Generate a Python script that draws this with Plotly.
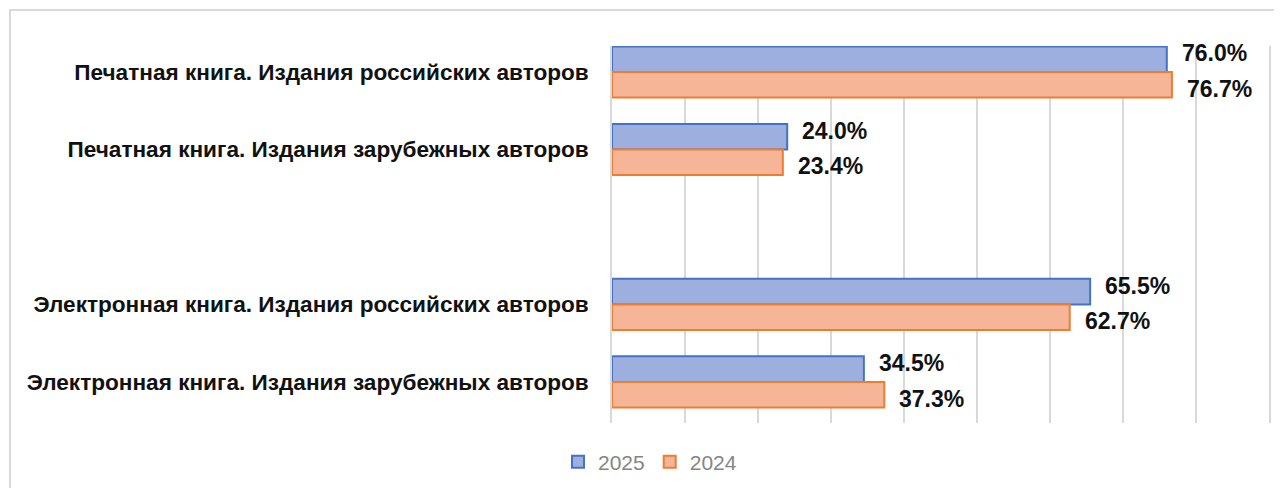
import plotly.graph_objects as go

categories = [
    "Печатная книга. Издания российских авторов",
    "Печатная книга. Издания зарубежных авторов",
    " ",
    "Электронная книга. Издания российских авторов",
    "Электронная книга. Издания зарубежных авторов",
]
series_names = ["2025", "2024"]
values_2025 = [76.0, 24.0, None, 65.5, 34.5]
values_2024 = [76.7, 23.4, None, 62.7, 37.3]
label_2025 = ["76.0%", "24.0%", "", "65.5%", "34.5%"]
label_2024 = ["76.7%", "23.4%", "", "62.7%", "37.3%"]

fills = ["#9dafdf", "#f6b596"]
edges = ["#4472c4", "#ed7d31"]

BARGAP = 0.34
half = (1 - BARGAP) / 4  # center offset of each bar within a group

# page body has an 8px margin: shrink figure so the plot lands where the reference has it
OFF = 8
W, H = 1282 - OFF, 488 - OFF
PL, PR, PT, PB = 612 - OFF, 1269 - OFF, 46 - OFF, 423 - OFF
PW, PH = PR - PL, PB - PT

fig = go.Figure()
for name, vals, fc, ec in zip(series_names, [values_2025, values_2024], fills, edges):
    fig.add_trace(go.Bar(
        name=name, y=categories, x=vals, orientation="h",
        marker=dict(color=fc, line=dict(color=ec, width=2)),
        hoverinfo="skip",
    ))

annotations = []
for k, (vals, labs, ysh) in enumerate([(values_2025, label_2025, 6), (values_2024, label_2024, -4)]):
    off = -half if k == 0 else half
    for i, (v, t) in enumerate(zip(vals, labs)):
        if v is None:
            continue
        annotations.append(dict(
            x=v, y=i + off, xref="x", yref="y", text="<b>%s</b>" % t, showarrow=False,
            xanchor="left", yanchor="middle", xshift=13, yshift=ysh,
            font=dict(family="Liberation Sans, Arial, sans-serif", size=23, color="#111111"),
        ))

fig.update_layout(
    width=W, height=H,
    margin=dict(l=PL, r=W - PR, t=PT, b=H - PB, autoexpand=False),
    paper_bgcolor="white", plot_bgcolor="white",
    barmode="group", bargap=BARGAP, bargroupgap=0,
    showlegend=True,
    legend=dict(
        orientation="h", xref="container", yref="container",
        x=(650 - OFF) / W, xanchor="center", y=1 - (462 - OFF) / H, yanchor="middle",
        font=dict(family="Liberation Sans, Arial, sans-serif", size=21, color="#858585"),
        itemwidth=30, traceorder="normal",
    ),
    annotations=annotations,
    xaxis=dict(
        range=[0, 90], dtick=10, showgrid=True, gridcolor="#d9d9d9", gridwidth=1.5,
        showticklabels=False, zeroline=False, showline=False, ticks="",
    ),
    yaxis=dict(
        type="category", categoryorder="array", categoryarray=categories,
        range=[4.53, -0.335], showgrid=False, zeroline=False,
        showline=True, linecolor="#d9d9d9", linewidth=1.5, mirror=True,
        ticks="", ticklen=0, ticklabelstandoff=17,
        tickfont=dict(family="Liberation Sans, Arial, sans-serif", size=22.6, color="#111111"),
    ),
    shapes=[dict(
        type="rect", xref="paper", yref="paper",
        x0=(10 - 612) / PW, x1=(1300 - 612) / PW,
        y0=(423 - 520) / PH, y1=(423 - 10) / PH,
        line=dict(color="#d9d9d9", width=2), fillcolor="rgba(0,0,0,0)", layer="below",
    )],
)

fig.update_yaxes(ticktext=["<b>%s</b>" % c for c in categories], tickvals=categories)

fig.write_html("out.html")
